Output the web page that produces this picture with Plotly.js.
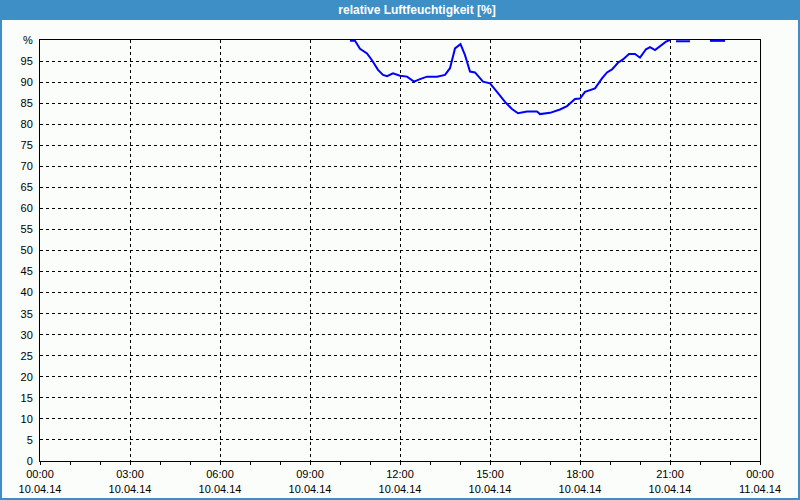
<!DOCTYPE html>
<html>
<head>
<meta charset="utf-8">
<script src="https://cdn.plot.ly/plotly-3.0.1.min.js"></script>
<style>
html,body{margin:0;padding:0;background:#fbfdfb;}
#chart{width:800px;height:500px;}
</style>
</head>
<body>
<div id="chart"></div>
<script>
// Data (date 10.04.2014, time of day, relative humidity in %)
// null = value at 100 %, hidden under the top frame of the plot in the original
const day = '2014-04-10';
const times = ['10:20','10:30','10:40','10:54','11:04','11:16','11:26','11:34','11:46','12:00',
  '12:14','12:28','12:40','12:54','13:14','13:30','13:40','13:50','14:01','14:10',
  '14:20','14:30','14:46','15:00','15:14','15:30','15:44','15:56','16:14','16:34',
  '16:40','17:00','17:20','17:34','17:50','18:00','18:10','18:30','18:44','18:54',
  '19:04','19:16','19:26','19:38','19:50','20:00','20:12','20:20','20:30','20:40',
  '20:52','21:00','21:06','21:12','21:40','21:46','22:20','22:50','22:56'];
const humidity = [99.8,99.8,97.9,96.8,95.2,92.9,91.7,91.4,92.1,91.5,
  91.3,90.1,90.7,91.3,91.3,91.7,93.3,98.0,99.0,96.4,
  92.5,92.3,90.1,89.7,87.7,85.3,83.6,82.6,83.0,83.0,
  82.4,82.7,83.5,84.3,86.0,86.1,87.7,88.5,90.9,92.3,
  93.0,94.6,95.4,96.7,96.7,95.8,97.8,98.3,97.6,98.6,
  99.6,100,null,99.7,99.7,null,99.8,99.8,null];
const yTickVals = [0,5,10,15,20,25,30,35,40,45,50,55,60,65,70,75,80,85,90,95,100];
const yTickText = ['0','5','10','15','20','25','30','35','40','45','50','55','60','65','70','75','80','85','90','95','%'];
const xTickVals = ['2014-04-10 00:00','2014-04-10 03:00','2014-04-10 06:00','2014-04-10 09:00','2014-04-10 12:00',
  '2014-04-10 15:00','2014-04-10 18:00','2014-04-10 21:00','2014-04-11 00:00'];
const xTickText = ['00:00<br>10.04.14','03:00<br>10.04.14','06:00<br>10.04.14','09:00<br>10.04.14','12:00<br>10.04.14',
  '15:00<br>10.04.14','18:00<br>10.04.14','21:00<br>10.04.14','00:00<br>11.04.14'];
const titleText = 'relative Luftfeuchtigkeit [%]';

const x = times.map(t => day + ' ' + t);

const W = 800, H = 500, L = 40, R = 40, T = 40, B = 39;
const pw = W - L - R, ph = H - T - B;
const px2x = p => (p - L) / pw;
const py2y = p => 1 - (p - T) / ph;
const blue = '#3d8fc6';

const layout = {
  width: W, height: H,
  margin: {l: L, r: R, t: T, b: B, pad: 0},
  paper_bgcolor: '#fbfdfb',
  plot_bgcolor: '#fbfdfb',
  showlegend: false,
  font: {family: 'Liberation Sans, Arial, sans-serif', size: 11, color: '#000'},
  title: {
    text: titleText,
    font: {family: 'Liberation Sans, Arial, sans-serif', size: 12, color: '#ffffff', weight: 'bold'},
    x: 417 / W, xref: 'container', xanchor: 'center',
    y: 1 - 10 / H, yref: 'container', yanchor: 'middle'
  },
  xaxis: {
    type: 'date',
    range: ['2014-04-10 00:00', '2014-04-11 00:00'],
    tickmode: 'array', tickvals: xTickVals, ticktext: xTickText,
    ticks: 'outside', ticklen: 3, tickcolor: '#000', tickwidth: 1,
    showline: true, linecolor: '#000', linewidth: 1, mirror: true,
    showgrid: true, gridcolor: '#000', gridwidth: 1, griddash: '3px,3px',
    zeroline: false,
    minor: {dtick: 3600000, ticks: 'outside', ticklen: 3, tickcolor: '#000', showgrid: false},
    tickfont: {size: 11, color: '#000'},
    fixedrange: true
  },
  yaxis: {
    range: [0, 100],
    tickmode: 'array', tickvals: yTickVals, ticktext: yTickText,
    ticks: '', ticklabelstandoff: 4,
    showline: true, linecolor: '#000', linewidth: 1, mirror: true,
    showgrid: true, gridcolor: '#000', gridwidth: 1, griddash: '3px,3px',
    zeroline: false,
    tickfont: {size: 11, color: '#000'},
    fixedrange: true
  },
  shapes: [
    {type: 'rect', xref: 'paper', yref: 'paper', layer: 'below',
     x0: px2x(0), x1: px2x(800), y0: py2y(20), y1: py2y(0),
     fillcolor: blue, line: {width: 0}},
    {type: 'line', xref: 'paper', yref: 'paper', layer: 'above',
     x0: px2x(1), x1: px2x(1), y0: py2y(0), y1: py2y(500), line: {color: blue, width: 2}},
    {type: 'line', xref: 'paper', yref: 'paper', layer: 'above',
     x0: px2x(799), x1: px2x(799), y0: py2y(0), y1: py2y(500), line: {color: blue, width: 2}},
    {type: 'line', xref: 'paper', yref: 'paper', layer: 'above',
     x0: px2x(0), x1: px2x(800), y0: py2y(499), y1: py2y(499), line: {color: blue, width: 2}}
  ]
};

const data = [{
  type: 'scatter', mode: 'lines',
  x: x, y: humidity,
  line: {color: '#0000ff', width: 2},
  connectgaps: false,
  hoverinfo: 'x+y'
}];

Plotly.newPlot('chart', data, layout, {displayModeBar: false, staticPlot: true});
</script>
</body>
</html>
